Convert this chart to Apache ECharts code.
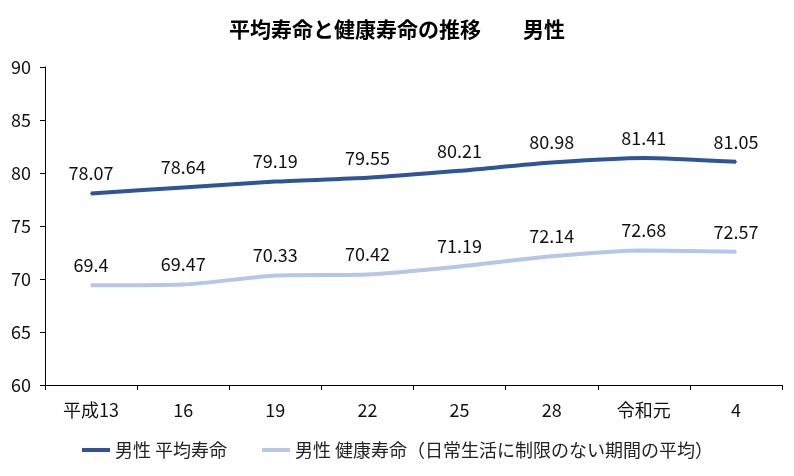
<!DOCTYPE html>
<html><head><meta charset="utf-8">
<script src="https://cdn.jsdelivr.net/npm/echarts@6/dist/echarts.min.js"></script>
<style>html,body{margin:0;padding:0;background:#fff}#c{width:794px;height:476px}</style>
</head><body><div id="c"></div>
<script>
const categories = ['平成13','16','19','22','25','28','令和元','4'];
const avgLife = [78.07,78.64,79.19,79.55,80.21,80.98,81.41,81.05];
const healthyLife = [69.4,69.47,70.33,70.42,71.19,72.14,72.68,72.57];
const seriesNames = ['男性 平均寿命','男性 健康寿命（日常生活に制限のない期間の平均）'];
const titleText = '平均寿命と健康寿命の推移　　男性';
const FONT = '"Noto Sans CJK JP", sans-serif';
const chart = echarts.init(document.getElementById('c'));
const lbl = {show:true, position:'top', distance:10, color:'#111', fontSize:18, fontFamily:FONT};
chart.setOption({
  animation:false,
  title:{text:titleText,left:'center',top:14,textStyle:{fontSize:21,fontWeight:'bold',color:'#000',fontFamily:FONT}},
  grid:{left:45,right:12,top:67,bottom:91},
  legend:{bottom:12,left:77,itemWidth:28,itemHeight:4,itemGap:35,icon:'rect',
    textStyle:{fontSize:18,color:'#222',fontFamily:FONT},
    data:seriesNames},
  xAxis:{type:'category',data:categories,boundaryGap:true,
    axisLine:{lineStyle:{color:'#000',width:1}},
    axisTick:{show:true,length:5,lineStyle:{color:'#000'}},
    axisLabel:{margin:16,fontSize:18,color:'#111',fontFamily:FONT}},
  yAxis:{type:'value',min:60,max:90,interval:5,
    axisLine:{show:true,lineStyle:{color:'#000',width:1}},
    axisTick:{show:true,length:5,lineStyle:{color:'#000'}},
    splitLine:{show:false},
    axisLabel:{margin:14,fontSize:18,color:'#111',fontFamily:FONT}},
  series:[
    {name:seriesNames[0],type:'line',data:avgLife,smooth:0.2,symbol:'circle',symbolSize:2,
     showSymbol:true,lineStyle:{color:'#2F5597',width:4},itemStyle:{color:'#2F5597'},label:lbl},
    {name:seriesNames[1],type:'line',data:healthyLife,smooth:0.2,symbol:'circle',symbolSize:2,
     showSymbol:true,lineStyle:{color:'#B4C7E7',width:4},itemStyle:{color:'#B4C7E7'},label:lbl}
  ]
});
</script></body></html>
